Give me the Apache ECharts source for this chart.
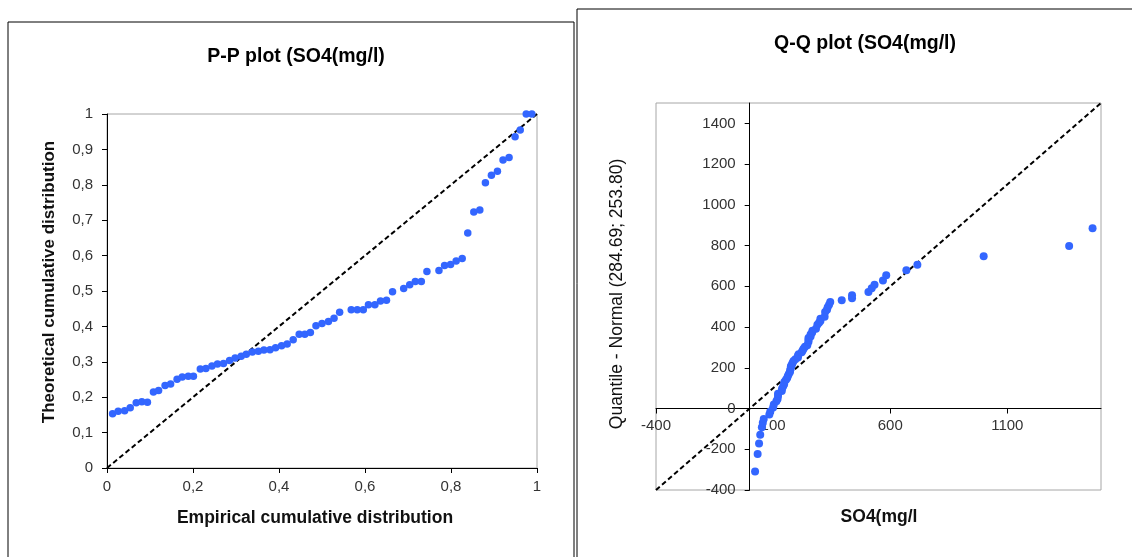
<!DOCTYPE html>
<html>
<head>
<meta charset="utf-8">
<script src="https://cdn.jsdelivr.net/npm/echarts/dist/echarts.min.js"></script>
<style>
html,body{margin:0;padding:0;background:#fff;}
#chart{width:1132px;height:557px;}
</style>
</head>
<body>
<div id="chart"></div>
<script>
// ---------- P-P plot data ----------
var ppEmpirical = [0.013,0.026,0.041,0.054,0.068,0.081,0.094,0.108,0.120,0.135,0.148,0.163,0.175,0.189,0.201,
  0.217,0.230,0.244,0.257,0.271,0.285,0.298,0.312,0.324,0.338,0.352,0.365,0.379,0.392,0.406,
  0.419,0.433,0.447,0.460,0.473,0.486,0.500,0.515,0.528,0.541,
  0.568,0.582,0.596,0.608,0.623,0.636,0.650,0.664,
  0.690,0.704,0.717,0.731,0.744,
  0.772,0.785,0.799,0.812,0.826,
  0.839,0.853,0.867,0.880,0.894,0.908,0.921,0.935,0.949,0.961,0.975,0.988];
var ppTheoretical = [0.153,0.160,0.162,0.170,0.184,0.187,0.186,0.215,0.219,0.233,0.237,0.251,0.257,0.259,0.259,
  0.280,0.281,0.288,0.294,0.295,0.304,0.311,0.316,0.321,0.328,0.330,0.333,0.334,0.340,0.345,
  0.350,0.362,0.378,0.378,0.383,0.402,0.408,0.414,0.423,0.440,
  0.447,0.447,0.447,0.461,0.461,0.472,0.474,0.498,
  0.507,0.518,0.527,0.527,0.555,
  0.558,0.572,0.575,0.585,0.592,
  0.664,0.723,0.729,0.806,0.827,0.838,0.870,0.877,0.936,0.955,1.000,1.000];
var ppDiagonal = [[0,0],[1,1]];
var ppXTicks = {min:0, max:1, interval:0.2};
var ppYTicks = {min:0, max:1, interval:0.1};

// ---------- Q-Q plot data ----------
var qqObserved = [23,34,40,45,52,56,60,
  84,88,100,103,114,119,121,121,137,138,143,147,148,155,160,163,167,172,
  173,175,176,180,183,187,195,206,206,209,222,226,230,236,246,251,251,251,260,260,
  267,268,283,289,296,302,302,320,322,330,333,339,344,
  393,437,437,507,521,533,569,583,669,716,999,1364,1464];
var qqNormal = [-309,-223,-172,-129,-92,-70,-51,
  -29,-14,5,20,36,47,61,72,86,97,109,119,130,141,150,160,169,179,
  188,197,207,215,224,233,242,251,259,267,276,285,294,303,311,328,337,346,354,364,
  373,382,392,411,421,430,441,451,474,485,497,509,523,
  531,541,556,572,591,608,628,654,679,706,748,798,885];
var qqDiagonal = [[-400,-400],[1500,1500]];
var qqXTicks = {min:-400, max:1500, interval:500};
var qqYTicks = {min:-400, max:1500, interval:200};

var ppData = ppEmpirical.map(function(x,i){return [x, ppTheoretical[i]];});
var qqData = qqObserved.map(function(x,i){return [x, qqNormal[i]];});

var FONT = 'Liberation Sans, Arial, sans-serif';
var BLUE = '#3366ff';
var LABEL = {fontSize:15, color:'#333', fontFamily:FONT};

// right grid geometry
var QQ_LEFT = 656, QQ_TOP = 103, QQ_W = 445, QQ_H = 387;
// shift the Q-Q axes so they cross at (0,0) of the data
var qqYAxisOffset = -QQ_W * (0 - qqXTicks.min) / (qqXTicks.max - qqXTicks.min);
var qqXAxisOffset = -QQ_H * (0 - qqYTicks.min) / (qqYTicks.max - qqYTicks.min);

function commaFmt(v){ return String(v).replace('.', ','); }
function plainFmt(v){ return String(v); }

var chart = echarts.init(document.getElementById('chart'), null, {renderer:'canvas'});
chart.setOption({
  animation:false,
  backgroundColor:'#fff',
  grid:[
    {left:107, top:114, width:430, height:354, show:true, borderColor:'#a6a6a6', borderWidth:1, containLabel:false},
    {left:QQ_LEFT, top:QQ_TOP, width:QQ_W, height:QQ_H, show:true, borderColor:'#a6a6a6', borderWidth:1, containLabel:false}
  ],
  xAxis:[
    {type:'value', gridIndex:0, min:ppXTicks.min, max:ppXTicks.max, interval:ppXTicks.interval,
      axisLine:{show:true, lineStyle:{color:'#000', width:1}},
      axisTick:{show:true, length:5, lineStyle:{color:'#000'}},
      splitLine:{show:false},
      axisLabel:Object.assign({margin:11, formatter:commaFmt}, LABEL)},
    {type:'value', gridIndex:1, min:qqXTicks.min, max:qqXTicks.max, interval:qqXTicks.interval,
      position:'bottom', offset:qqXAxisOffset,
      axisLine:{show:true, onZero:false, lineStyle:{color:'#000', width:1}},
      axisTick:{show:true, length:5, lineStyle:{color:'#000'}},
      splitLine:{show:false},
      axisLabel:Object.assign({margin:10, showMaxLabel:false, formatter:plainFmt}, LABEL)}
  ],
  yAxis:[
    {type:'value', gridIndex:0, min:ppYTicks.min, max:ppYTicks.max, interval:ppYTicks.interval,
      axisLine:{show:true, lineStyle:{color:'#000', width:1}},
      axisTick:{show:true, length:5, lineStyle:{color:'#000'}},
      splitLine:{show:false},
      axisLabel:Object.assign({margin:14, formatter:commaFmt}, LABEL)},
    {type:'value', gridIndex:1, min:qqYTicks.min, max:qqYTicks.max, interval:qqYTicks.interval,
      position:'left', offset:qqYAxisOffset,
      axisLine:{show:true, onZero:false, lineStyle:{color:'#000', width:1}},
      axisTick:{show:true, length:5, lineStyle:{color:'#000'}},
      splitLine:{show:false},
      axisLabel:Object.assign({margin:14, showMaxLabel:false, formatter:plainFmt}, LABEL)}
  ],
  series:[
    {type:'line', xAxisIndex:0, yAxisIndex:0, data:ppDiagonal, symbol:'none', silent:true,
      lineStyle:{color:'#000', width:2, type:[5,3]}, z:3},
    {type:'scatter', xAxisIndex:0, yAxisIndex:0, data:ppData, symbolSize:7.5,
      itemStyle:{color:BLUE, opacity:1}, z:4},
    {type:'line', xAxisIndex:1, yAxisIndex:1, data:qqDiagonal, symbol:'none', silent:true,
      lineStyle:{color:'#000', width:2, type:[5,3]}, z:3},
    {type:'scatter', xAxisIndex:1, yAxisIndex:1, data:qqData, symbolSize:8,
      itemStyle:{color:BLUE, opacity:1}, z:4}
  ],
  graphic:[
    {type:'rect', shape:{x:8, y:22, width:566, height:600}, style:{fill:'none', stroke:'#000', lineWidth:1}, silent:true},
    {type:'rect', shape:{x:577, y:9, width:600, height:600}, style:{fill:'none', stroke:'#000', lineWidth:1}, silent:true},
    {type:'text', x:296, y:57, style:{text:'P-P plot (SO4(mg/l)', fontSize:19.5, fontWeight:'bold', fontFamily:FONT, fill:'#000', align:'center', verticalAlign:'middle'}},
    {type:'text', x:865, y:44, style:{text:'Q-Q plot (SO4(mg/l)', fontSize:19.5, fontWeight:'bold', fontFamily:FONT, fill:'#000', align:'center', verticalAlign:'middle'}},
    {type:'text', x:315, y:518, style:{text:'Empirical cumulative distribution', fontSize:17.5, fontWeight:'bold', fontFamily:FONT, fill:'#111', align:'center', verticalAlign:'middle'}},
    {type:'text', x:49, y:282, rotation:Math.PI/2, style:{text:'Theoretical cumulative distribution', fontSize:17, fontWeight:'bold', fontFamily:FONT, fill:'#111', align:'center', verticalAlign:'middle'}},
    {type:'text', x:879, y:517, style:{text:'SO4(mg/l', fontSize:17.5, fontWeight:'bold', fontFamily:FONT, fill:'#111', align:'center', verticalAlign:'middle'}},
    {type:'text', x:617, y:294, rotation:Math.PI/2, style:{text:'Quantile - Normal (284.69; 253.80)', fontSize:17.5, fontFamily:FONT, fill:'#111', align:'center', verticalAlign:'middle'}}
  ]
});
</script>
</body>
</html>
